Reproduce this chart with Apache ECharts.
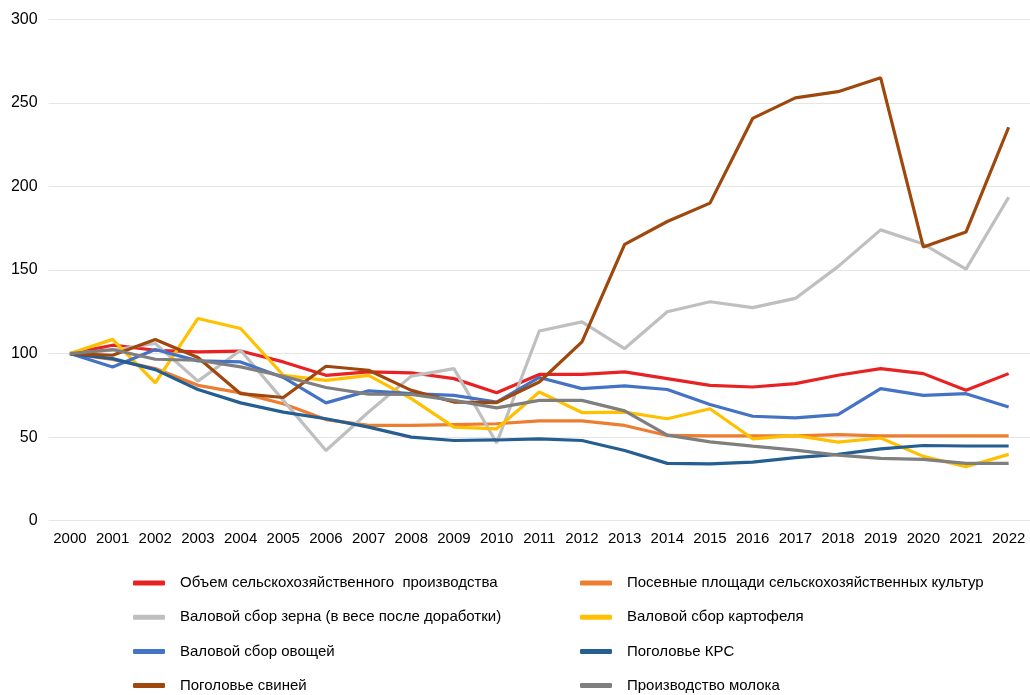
<!DOCTYPE html>
<html>
<head>
<meta charset="utf-8">
<script src="https://cdn.jsdelivr.net/npm/echarts@6/dist/echarts.min.js"></script>
<style>
  html, body { margin: 0; padding: 0; background: #fff; }
  #chart { width: 1030px; height: 695px; }
</style>
</head>
<body>
<div id="chart"></div>
<script>
const years = ['2000','2001','2002','2003','2004','2005','2006','2007','2008','2009','2010','2011',
  '2012','2013','2014','2015','2016','2017','2018','2019','2020','2021','2022'];

const names = [
  'Объем сельскохозяйственного  производства',
  'Посевные площади сельскохозяйственных культур',
  'Валовой сбор зерна (в весе после доработки)',
  'Валовой сбор картофеля',
  'Валовой сбор овощей',
  'Поголовье КРС',
  'Поголовье свиней',
  'Производство молока'
];

const agroVolume = [100, 105, 102, 101, 101.5, 95, 87, 89, 88.5, 85, 76.5, 87.5, 87.5, 89, 85, 81, 80, 82, 87, 91, 88, 78, 88];
const sownArea   = [100, 96.5, 91, 81, 76.5, 70, 60.5, 57, 57, 57.5, 58, 59.7, 59.7, 57, 51, 50.8, 50.8, 50.8, 51.5, 50.8, 50.8, 50.8, 50.8];
const grain      = [100, 102, 106, 83.5, 102, 72, 42, 65, 86.5, 91, 46.5, 113.5, 119, 103, 125, 131, 127.5, 133, 152, 174, 165.5, 150.5, 193.5];
const potato     = [100, 108.5, 82.5, 121, 115, 87, 84, 87, 73, 56, 55, 77, 64.7, 65, 61, 67, 49, 51, 47, 49.5, 38.5, 32.3, 39.7];
const vegetables = [100, 92, 102.4, 95.6, 95, 85.7, 70.5, 77.7, 76, 75, 71, 85.7, 79, 80.7, 78.5, 69.5, 62.5, 61.5, 63.5, 79, 75, 76, 68];
const cattle     = [100, 97, 90.4, 78.5, 70.5, 65, 61, 56, 50, 48, 48.3, 49, 48, 42, 34.3, 34, 35, 37.7, 39.7, 43, 45, 44.7, 44.7];
const pigs       = [100, 99, 108.4, 97.6, 76, 73.7, 92.4, 90, 78, 71, 70.7, 83, 107, 165.3, 179, 190, 240.7, 253, 256.7, 265, 163.7, 172.7, 235.4];
const milk       = [100, 102.4, 96.6, 96, 92, 86.4, 79.7, 75.7, 75.5, 72, 67.5, 72, 72, 65.7, 51.2, 47.2, 44.6, 42.2, 39.2, 37.3, 36.7, 34.3, 34.3];

const colors = ['#E82222', '#ED7D31', '#BFBFBF', '#FFC000', '#4472C4', '#255E91', '#9E480E', '#7F7F7F'];
const values = [agroVolume, sownArea, grain, potato, vegetables, cattle, pigs, milk];

const chart = echarts.init(document.getElementById('chart'));

const legendBase = {
  orient: 'vertical',
  top: 574,
  height: 121,
  padding: 0,
  itemWidth: 32,
  itemHeight: 5,
  itemGap: 16.2,
  icon: 'roundRect',
  textStyle: {
    fontFamily: 'Liberation Sans',
    fontSize: 15,
    color: '#000',
    lineHeight: 18,
    padding: [0, 0, 0, 10]
  }
};

const option = {
  animation: false,
  color: colors,
  textStyle: { fontFamily: 'Liberation Sans' },
  grid: { left: 48.6, right: -4.4, top: 19.3, bottom: 174.3 },
  legend: [
    Object.assign({}, legendBase, { left: 133, data: [names[0], names[2], names[4], names[6]] }),
    Object.assign({}, legendBase, { left: 580, data: [names[1], names[3], names[5], names[7]] })
  ],
  xAxis: {
    type: 'category',
    data: years,
    boundaryGap: true,
    axisLine: { show: false },
    axisTick: { show: false },
    axisLabel: { color: '#000', fontSize: 15, margin: 11, interval: 0 }
  },
  yAxis: {
    type: 'value',
    min: 0,
    max: 300,
    interval: 50,
    axisLine: { show: false },
    axisTick: { show: false },
    axisLabel: { color: '#000', fontSize: 16, margin: 11 },
    splitLine: { lineStyle: { color: '#E6E6E6', width: 1 } }
  },
  series: names.map((n, i) => ({
    name: n,
    type: 'line',
    data: values[i],
    symbol: 'none',
    lineStyle: { width: 3.2, color: colors[i] },
    itemStyle: { color: colors[i] }
  }))
};

chart.setOption(option);
</script>
</body>
</html>
